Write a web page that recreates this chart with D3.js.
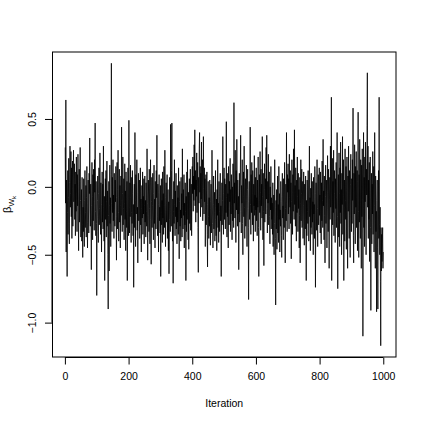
<!DOCTYPE html>
<html><head><meta charset="utf-8">
<script src="https://cdn.jsdelivr.net/npm/d3@7"></script>
<style>body{margin:0;background:#fff}text{font-family:"Liberation Sans",Arial,sans-serif;fill:#000}</style>
</head><body><svg id="c" width="423" height="423"></svg>
<script>
const xTicks = [0, 200, 400, 600, 800, 1000];
const yTicks = [-1.0, -0.5, 0.0, 0.5];
const xLabel = "Iteration";
const trace = [
0.29,-0.12,0.64,-0.48,0.05,-0.31,-0.66,-0.19,0.12,-0.35,
-0.08,0.21,-0.27,-0.42,0.03,0.30,-0.15,-0.05,0.26,-0.22,
0.14,-0.38,-0.01,0.19,-0.29,0.08,0.27,-0.11,-0.03,0.17,
-0.24,0.02,-0.36,0.11,-0.18,0.22,-0.06,-0.33,0.09,-0.14,
0.24,-0.2,-0.47,-0.09,0.13,-0.26,0.04,0.29,-0.1,-0.37,
-0.21,-0.02,-0.4,0.07,-0.28,-0.52,-0.15,-0.33,0.06,-0.24,
-0.44,-0.1,0.12,-0.3,-0.19,0.01,-0.37,-0.08,0.15,-0.26,
-0.45,-0.12,0.05,-0.2,-0.34,0.1,-0.05,0.36,-0.17,-0.29,
0.02,-0.23,-0.61,-0.14,0.18,-0.07,-0.39,0.09,-0.25,0.13,
-0.11,-0.32,0.2,-0.04,0.47,-0.18,-0.36,0.04,-0.27,-0.8,
-0.33,-0.1,0.08,-0.22,-0.41,-0.05,0.14,-0.28,-0.16,0.25,
-0.09,-0.35,0.03,-0.2,-0.48,-0.13,0.11,-0.26,0.02,-0.31,
0.3,-0.15,-0.4,-0.07,-0.69,-0.18,0.06,-0.24,0.12,-0.37,
-0.11,0.19,-0.29,-0.03,-0.5,-0.9,-0.21,0.04,-0.62,-0.14,
0.16,-0.27,-0.08,-0.44,0.09,0.91,-0.12,-0.33,0.07,-0.19,
0.2,-0.25,-0.06,-0.38,0.1,-0.17,-0.29,0.05,-0.11,0.15,
-0.22,-0.54,-0.08,0.18,-0.31,-0.02,0.27,-0.19,-0.4,-0.07,
0.13,-0.26,0.01,-0.45,-0.14,0.08,-0.21,0.44,-0.1,-0.33,
-0.05,0.22,-0.28,-0.16,0.06,-0.39,-0.12,0.17,-0.24,-0.03,
-0.47,0.11,-0.18,-0.3,0.04,-0.69,-0.2,0.14,-0.09,-0.36,
0.49,-0.15,-0.34,0.03,-0.22,0.16,-0.08,-0.41,-0.19,0.07,
-0.27,0.12,-0.05,-0.36,-0.13,-0.74,-0.24,0.02,-0.3,0.4,
-0.1,-0.44,0.09,-0.2,-0.06,0.2,-0.32,-0.15,-0.56,-0.04,
0.1,-0.25,-0.12,0.05,-0.38,-0.18,0.14,-0.28,-0.09,-0.48,
-0.16,0.01,-0.23,0.11,-0.35,-0.07,-0.2,0.06,-0.42,-0.14,
0.08,-0.26,-0.1,-0.37,0.03,-0.18,-0.29,0.28,-0.12,-0.54,
-0.21,0.05,-0.06,-0.33,0.13,-0.16,-0.42,-0.03,0.2,-0.24,
-0.57,-0.11,0.07,-0.3,-0.14,0.1,-0.2,-0.39,-0.05,0.16,
-0.27,-0.09,-0.45,0.04,-0.17,-0.31,0.12,-0.08,0.38,-0.22,
-0.36,0.02,-0.13,-0.48,-0.04,0.09,-0.25,-0.15,-0.34,0.01,
-0.66,-0.19,0.06,-0.28,-0.1,-0.41,0.11,-0.23,-0.05,-0.35,
0.15,-0.14,-0.3,0.27,-0.08,-0.44,-0.17,0.03,-0.26,-0.12,
0.09,-0.38,-0.2,-0.02,-0.47,-0.11,-0.64,-0.24,0.07,-0.16,
-0.33,0.46,-0.06,-0.29,0.12,0.47,-0.21,-0.4,-0.09,-0.71,
-0.18,0.04,-0.27,0.2,-0.13,-0.36,-0.03,-0.22,0.1,-0.31,
-0.15,-0.42,0.01,-0.26,-0.08,-0.35,0.14,-0.19,-0.53,-0.11,
0.04,-0.29,-0.17,-0.4,0.07,-0.23,-0.05,-0.37,0.28,-0.14,
-0.31,-0.02,-0.21,0.09,-0.45,-0.12,-0.28,0.03,-0.18,-0.69,
-0.07,-0.33,0.11,-0.24,0.2,-0.13,-0.39,-0.04,-0.46,-0.16,
0.06,-0.27,-0.1,0.13,-0.32,-0.2,0.02,-0.36,-0.09,0.15,
-0.05,0.22,-0.18,0.08,-0.1,0.31,-0.02,0.42,-0.14,0.12,
-0.26,0.05,-0.07,0.25,-0.19,0.0,0.18,-0.3,-0.63,0.07,
-0.12,0.28,0.4,-0.04,0.15,-0.22,0.1,-0.09,0.33,-0.15,
0.03,0.2,-0.25,-0.06,0.37,-0.01,-0.2,0.14,-0.11,0.06,
-0.44,-0.17,0.09,-0.28,-0.03,0.11,-0.35,-0.59,-0.13,0.04,
-0.22,-0.38,-0.08,-0.29,0.05,-0.16,-0.43,-0.11,0.02,-0.34,
-0.2,0.27,-0.06,-0.27,-0.45,-0.13,0.08,-0.31,-0.19,-0.04,
-0.4,-0.24,0.12,-0.15,-0.36,-0.09,-0.47,-0.02,-0.21,0.2,
-0.3,-0.12,-0.41,0.04,-0.18,-0.33,-0.07,0.1,-0.25,-0.14,
-0.66,-0.2,0.03,-0.28,-0.1,0.37,-0.17,-0.35,-0.05,0.14,
-0.24,0.06,-0.13,-0.31,0.02,-0.19,0.48,-0.08,-0.37,0.1,
-0.22,-0.05,-0.45,0.15,-0.16,-0.28,0.04,-0.11,0.21,-0.33,
-0.02,-0.2,0.09,-0.14,-0.39,0.0,-0.25,0.17,-0.09,-0.3,
0.62,-0.12,0.03,-0.23,0.27,-0.06,-0.41,0.12,-0.17,0.35,
-0.1,-0.29,0.05,-0.2,-0.07,-0.61,-0.15,0.1,-0.26,-0.03,
0.08,0.38,-0.18,-0.34,0.01,-0.12,0.2,-0.27,-0.5,-0.07,
0.11,-0.22,0.3,-0.15,-0.38,-0.04,0.06,-0.29,-0.1,0.16,
-0.2,-0.44,-0.02,0.13,-0.16,-0.3,-0.83,-0.11,0.04,-0.24,
-0.07,0.44,-0.13,-0.35,0.09,-0.19,0.18,-0.05,-0.28,0.12,
-0.09,-0.4,0.02,-0.14,0.23,-0.21,-0.06,-0.33,0.07,-0.17,
0.14,-0.25,-0.08,-0.36,0.05,-0.15,0.22,-0.3,-0.66,-0.1,
0.09,-0.19,0.26,-0.04,-0.32,0.13,-0.14,0.02,-0.23,0.37,
-0.07,-0.39,0.1,-0.18,-0.58,-0.02,0.17,-0.26,-0.11,0.06,
-0.2,0.29,-0.09,0.38,-0.16,-0.34,0.04,-0.12,0.24,-0.28,
-0.05,0.11,-0.22,-0.42,0.0,-0.17,0.15,-0.31,-0.08,-0.24,
-0.12,-0.35,0.03,-0.44,-0.2,-0.06,-0.5,-0.27,0.2,-0.15,
-0.38,-0.87,-0.1,-0.31,-0.02,-0.46,-0.22,0.08,-0.34,-0.13,
-0.41,0.15,-0.24,-0.05,-0.48,-0.17,-0.29,0.04,-0.11,-0.36,
-0.52,-0.07,0.1,-0.23,-0.14,-0.39,0.06,-0.19,-0.3,0.18,
-0.09,-0.56,-0.16,0.02,-0.25,0.4,-0.12,-0.33,0.09,-0.04,
0.17,-0.2,0.06,-0.31,0.24,-0.08,-0.15,0.12,-0.27,0.03,
-0.53,-0.11,0.2,-0.04,-0.35,0.09,-0.18,0.28,-0.06,-0.24,
0.42,-0.13,0.01,-0.29,0.14,-0.1,-0.4,0.05,-0.19,0.22,
-0.07,-0.33,0.1,-0.16,-0.02,-0.45,-0.21,0.07,-0.56,-0.12,
0.2,-0.25,-0.05,0.13,-0.3,-0.09,0.04,-0.38,-0.14,0.11,
-0.2,-0.43,0.02,-0.15,-0.31,0.08,-0.24,-0.69,-0.1,-0.36,
0.05,-0.18,-0.27,0.12,-0.06,-0.4,-0.14,0.3,-0.22,-0.08,
-0.47,-0.01,-0.3,0.1,-0.17,-0.35,0.04,-0.26,-0.11,-0.5,
0.07,-0.2,-0.13,-0.38,0.15,-0.05,-0.74,-0.23,0.03,-0.32,
-0.09,0.2,-0.16,-0.44,-0.02,0.09,-0.28,-0.12,0.14,-0.21,
-0.06,-0.34,0.11,-0.18,-0.42,0.03,-0.25,0.19,-0.1,-0.3,
0.35,-0.14,-0.03,-0.39,0.08,-0.21,-0.56,-0.07,0.16,-0.27,
-0.12,0.05,-0.45,-0.17,0.23,-0.04,-0.33,0.13,-0.2,-0.6,
-0.09,0.07,-0.24,0.3,-0.15,0.0,0.66,-0.69,-0.11,0.21,
-0.28,0.04,-0.19,0.27,-0.36,-0.05,0.12,-0.23,-0.41,0.06,
-0.16,0.18,-0.3,-0.08,0.4,-0.22,-0.75,-0.12,0.09,-0.37,
0.25,-0.05,-0.44,0.14,-0.19,0.33,-0.27,-0.02,-0.5,0.1,
-0.13,0.37,-0.35,-0.07,0.2,-0.69,-0.15,0.05,-0.4,0.28,
-0.1,-0.24,0.15,-0.46,-0.03,0.22,-0.31,-0.6,0.08,-0.18,
0.3,-0.09,-0.38,0.12,-0.21,-0.52,0.02,0.24,-0.14,-0.33,
0.06,-0.27,0.2,-0.1,0.58,-0.36,-0.56,0.1,-0.2,0.31,
-0.05,-0.42,0.15,-0.15,0.26,-0.3,-0.08,0.12,-0.47,0.04,
0.55,-0.18,-0.52,0.09,-0.26,0.35,-0.12,-0.38,0.2,-0.03,
-0.6,0.16,-0.22,0.28,-0.09,-1.1,-0.16,0.4,-0.3,0.07,
-0.44,0.22,-0.11,0.33,-0.2,-0.5,0.13,-0.06,0.45,0.84,
-0.15,0.3,-0.38,0.05,-0.24,0.18,-0.55,-0.08,0.22,-0.3,
-0.91,-0.12,0.1,-0.42,0.02,-0.2,0.26,-0.35,-0.06,0.15,
-0.48,-0.14,0.4,-0.25,-0.6,0.08,-0.33,-0.18,-0.92,-0.1,
0.05,-0.45,-0.9,-0.2,0.12,-0.38,0.66,-0.28,-0.5,-0.15,
-0.7,-1.17,-0.3,-0.62,-0.35,-0.55,-0.42,-0.3,-0.6,-0.48
];

const svg = d3.select("#c");
const L = 52.5, R = 396, T = 52, B = 357;
const n = trace.length;
const xPad = (n - 1) * 0.04;
const x = d3.scaleLinear().domain([1 - xPad, n + xPad]).range([L, R]);
const [ymin, ymax] = d3.extent(trace);
const yPad = (ymax - ymin) * 0.04;
const y = d3.scaleLinear().domain([ymin - yPad, ymax + yPad]).range([B, T]);

const line = d3.line().x((d, i) => x(i + 1)).y(d => y(d));
svg.append("path").datum(trace).attr("d", line)
  .attr("fill", "none").attr("stroke", "#000").attr("stroke-width", 0.8)
  .attr("stroke-linejoin", "miter");

svg.append("rect").attr("x", L).attr("y", T).attr("width", R - L).attr("height", B - T)
  .attr("fill", "none").attr("stroke", "#000").attr("stroke-width", 1);

const fs = "10.5px";
const gx = svg.append("g").attr("transform", `translate(0,${B + 0.5})`)
  .call(d3.axisBottom(x).tickValues(xTicks).tickSize(7).tickPadding(8).tickFormat(d3.format("d")));
gx.select(".domain").attr("d", `M${x(xTicks[0])},0H${x(xTicks[xTicks.length-1])}`);
gx.selectAll("text").style("font-size", fs).attr("fill", "#000");

const gy = svg.append("g").attr("transform", `translate(${L - 0.5},0)`)
  .call(d3.axisLeft(y).tickValues(yTicks).tickSize(7).tickFormat(d3.format(".1f")));
gy.select(".domain").attr("d", `M0,${y(yTicks[0])}V${y(yTicks[yTicks.length-1])}`);
gy.selectAll(".tick text")
  .attr("x", null).attr("dy", null)
  .attr("text-anchor", "middle")
  .attr("transform", "translate(-16,0) rotate(-90)")
  .style("font-size", fs).attr("fill", "#000");
svg.selectAll(".domain, .tick line").attr("stroke", "#000");

svg.append("text").attr("x", (L + R) / 2).attr("y", 407).attr("text-anchor", "middle")
  .style("font-size", fs).text(xLabel);

const yl = svg.append("text").attr("transform", `translate(11,${(T + B) / 2}) rotate(-90)`)
  .attr("text-anchor", "middle").style("font-size", "11px");
yl.append("tspan").text("β");
yl.append("tspan").attr("dy", 3).style("font-size", "8px").text("W");
yl.append("tspan").attr("dy", 2).style("font-size", "6px").text("k");
</script></body></html>
